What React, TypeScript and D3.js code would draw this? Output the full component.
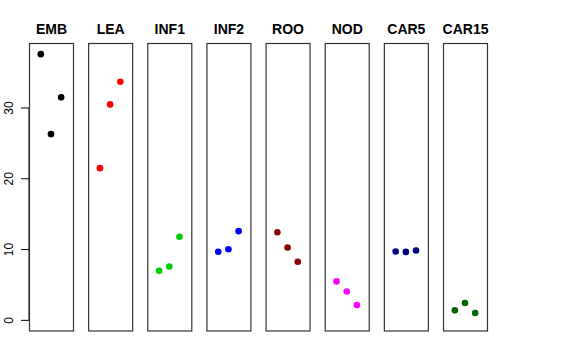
import React from "react";
import * as d3 from "d3";

// groups shown as panels, left to right
const groups = ["EMB", "LEA", "INF1", "INF2", "ROO", "NOD", "CAR5", "CAR15"];
const colors = ["#000000", "#FF0000", "#00CD00", "#0000FF", "#8B0000", "#FF00FF", "#000080", "#006400"];

// three replicates per group
const rep1 = [37.6, 21.5, 7.0, 9.7, 12.45, 5.5, 9.72, 1.41];
const rep2 = [26.3, 30.5, 7.6, 10.05, 10.3, 4.08, 9.67, 2.45];
const rep3 = [31.5, 33.7, 11.8, 12.6, 8.27, 2.17, 9.86, 1.04];

const yTicks = [0, 10, 20, 30];

export default function App() {
  const width = 576,
    height = 360;
  const top = 43.5,
    bottom = 331;

  const panel = d3.scaleBand<string>().domain(groups).range([29, 487]).paddingInner(0.256).paddingOuter(0);

  const maxV = d3.max([...rep1, ...rep2, ...rep3]) as number;
  const pad = maxV * 0.04;
  const y = d3.scaleLinear().domain([-pad, maxV + pad]).range([bottom, top]);

  const bw = panel.bandwidth();
  const x = d3.scaleLinear().domain([-0.16, 4.16]).range([0, bw]);

  const font = "'Liberation Sans', Arial, Helvetica, sans-serif";

  return (
    <svg width={width} height={height} style={{ position: "absolute", left: 0, top: 0, background: "#fff" }}>
      {/* y axis on the first panel */}
      <g>
        <line x1={29} x2={29} y1={y(0)} y2={y(30)} stroke="#000" />
        {yTicks.map(t => (
          <g key={t}>
            <line x1={21} x2={29} y1={y(t)} y2={y(t)} stroke="#000" />
            <text
              transform={`translate(12.5,${y(t)}) rotate(-90)`}
              textAnchor="middle"
              fontFamily={font}
              fontSize={12}
            >
              {t}
            </text>
          </g>
        ))}
      </g>

      {groups.map((g, i) => {
        const x0 = panel(g) as number;
        const vals = [rep1[i], rep2[i], rep3[i]];
        return (
          <g key={g} transform={`translate(${x0},0)`}>
            <rect x={0.5} y={top} width={bw} height={bottom - top} fill="none" stroke="#333" strokeWidth={1.2} />
            <text
              x={bw / 2 + 0.5}
              y={34}
              textAnchor="middle"
              fontFamily={font}
              fontWeight="bold"
              fontSize={14}
            >
              {g}
            </text>
            {vals.map((v, j) => (
              <circle key={j} cx={x(j + 1)} cy={y(v)} r={3.3} fill={colors[i]} />
            ))}
          </g>
        );
      })}
    </svg>
  );
}
